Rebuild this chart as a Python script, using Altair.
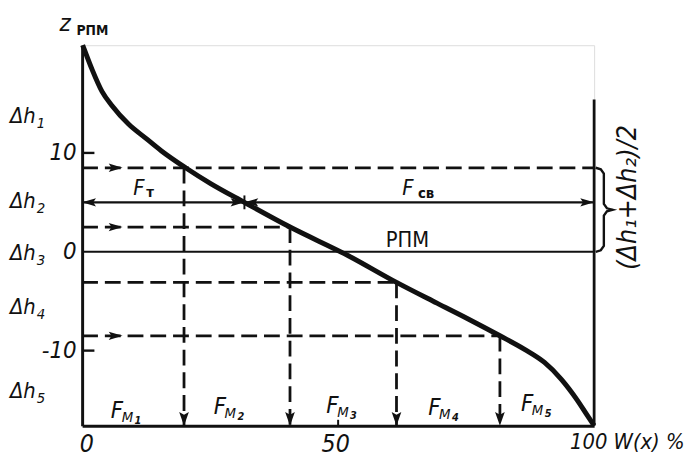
import altair as alt
import pandas as pd

# ---------------- values ----------------
# distribution curve z_РПМ(W)
curve_w = [0.1, 0.4, 1.9, 3.9, 5.8, 9.1, 12.4, 15.5, 20.2, 25.1, 31.7, 40.6,
           52.0, 61.4, 69.3, 75.4, 81.6, 86.5, 90.3, 93.6, 96.7, 98.6, 100.0]
curve_z = [20.9, 20.5, 18.5, 16.2, 14.8, 12.9, 11.5, 10.2, 8.5, 6.9, 5.0, 2.5,
           -0.4, -3.1, -5.2, -6.8, -8.5, -9.9, -11.2, -12.9, -15.0, -16.5, -17.6]

level_z = [8.5, 2.5, -3.1, -8.5]        # dashed cutting levels
level_w = [19.9, 40.6, 61.4, 81.6]      # where they meet the curve
level_end = [100.0, 40.6, 61.4, 81.6]   # right end of each dashed level
arrow_levels = [8.5, 2.5, -8.5]         # levels carrying a small arrow
arrow_w = 7.9

z_min, z_max = -17.6, 20.9
rpm_z = 0.0           # РПМ line
f_z, f_w = 5.0, 31.7  # F_т / F_св line and its crossing with the curve
right_top = 15.4
brace_top, brace_bottom = 8.5, 0.0

ytick_vals = [10, -10]
xtick_vals = [50]

dh_subs = ["1", "2", "3", "4", "5"]
dh_z = [13.0, 4.4, -0.8, -6.3, -14.8]
fm_subs = ["1", "2", "3", "4", "5"]
fm_w = [5.6, 25.7, 47.7, 67.6, 85.7]
fm_z = [-16.8, -16.4, -16.3, -16.5, -16.1]

FONT = "DejaVu Sans Condensed, DejaVu Sans"
INK = "#111111"

xs = alt.Scale(domain=[0, 100], nice=False, zero=False)
ys = alt.Scale(domain=[z_min, z_max], nice=False, zero=False)

X_AXIS = alt.Axis(values=[0, 50], ticks=False, grid=False, domainColor=INK, domainWidth=3,
                  labelFont=FONT, labelFontSize=25, labelFontStyle="italic", labelColor=INK,
                  labelPadding=6, labelOffset=-3, labelBaseline="top", title=None)
Y_AXIS = alt.Axis(values=[-10, 0, 10], ticks=False, grid=False, domainColor=INK, domainWidth=3,
                  labelFont=FONT, labelFontSize=24, labelFontStyle="italic", labelColor=INK,
                  labelPadding=6, title=None,
                  labelExpr="datum.value < 0 ? '-' + (-datum.value) : '' + datum.value")


def X(f="x"):
    return alt.X(f, type="quantitative", scale=xs, axis=X_AXIS, title=None)


def Y(f="y"):
    return alt.Y(f, type="quantitative", scale=ys, axis=Y_AXIS, title=None)


# ---------------- curve ----------------
curve_df = pd.DataFrame({"x": curve_w, "y": curve_z})
curve = alt.Chart(curve_df).mark_line(color=INK, strokeWidth=5, interpolate="monotone").encode(
    x=X(), y=Y())

# dashed horizontal levels
hdash_df = pd.DataFrame({"x": [0] * len(level_z), "x2": level_end, "y": level_z})
hdash = alt.Chart(hdash_df).mark_rule(color=INK, strokeWidth=2.8, strokeDash=[16, 7]).encode(
    x=X(), x2="x2", y=Y())

# dashed verticals down to the W axis
vdash_df = pd.DataFrame({"x": level_w, "y": level_z, "y2": [z_min] * len(level_z)})
vdash = alt.Chart(vdash_df).mark_rule(color=INK, strokeWidth=2.8, strokeDash=[16, 7]).encode(
    x=X(), y=Y(), y2="y2")

# solid thin lines: РПМ line and F line
solid_df = pd.DataFrame({"x": [0, 0], "x2": [100, 100], "y": [rpm_z, f_z]})
solid = alt.Chart(solid_df).mark_rule(color=INK, strokeWidth=2.2).encode(x=X(), x2="x2", y=Y())

# right vertical line
rv_df = pd.DataFrame({"x": [100], "y": [z_min], "y2": [right_top]})
rv = alt.Chart(rv_df).mark_rule(color=INK, strokeWidth=2.8).encode(x=X(), y=Y(), y2="y2")

# inward ticks
yt_df = pd.DataFrame({"x": [0] * len(ytick_vals), "x2": [2.4] * len(ytick_vals), "y": ytick_vals})
yt = alt.Chart(yt_df).mark_rule(color=INK, strokeWidth=2.4).encode(x=X(), x2="x2", y=Y())
xt_df = pd.DataFrame({"x": xtick_vals + [f_w], "y": [z_min, f_z - 0.7], "y2": [z_min + 0.6, f_z + 0.7]})
xt = alt.Chart(xt_df).mark_rule(color=INK, strokeWidth=2).encode(x=X(), y=Y(), y2="y2")

# arrowheads
arr_rows = [(arrow_w, z, "r") for z in arrow_levels]
arr_rows += [(f_w, f_z, "r"), (100, f_z, "r"), (0, f_z, "l"), (f_w, f_z, "l")]
arr_rows += [(w, z_min, "d") for w in level_w]
arr_df = pd.DataFrame(arr_rows, columns=["x", "y", "dir"])
arrows = alt.Chart(arr_df).mark_point(filled=True, opacity=1, color=INK, size=784, strokeWidth=0).encode(
    x=X(), y=Y(),
    shape=alt.Shape("dir:N", legend=None,
                    scale=alt.Scale(domain=["r", "l", "d"],
                                    range=["M0,0L-1,-0.3L-0.8,0L-1,0.3Z",
                                           "M0,0L1,-0.3L0.8,0L1,0.3Z",
                                           "M0,0L-0.35,-1L0,-0.8L0.35,-1Z"])))

# brace
mid = (brace_top + brace_bottom) / 2
brace_df = pd.DataFrame({
    "x": [100.3, 101.3, 101.9, 101.9, 102.5, 103.6, 102.5, 101.9, 101.9, 101.3, 100.3],
    "y": [brace_top, brace_top - 0.15, brace_top - 0.6, mid + 0.6, mid + 0.15, mid,
          mid - 0.15, mid - 0.6, brace_bottom + 0.6, brace_bottom + 0.15, brace_bottom],
    "i": list(range(11)),
})
brace = alt.Chart(brace_df).mark_line(color=INK, strokeWidth=2.4).encode(
    x=X(), y=Y(), order=alt.Order("i:Q"))


# ---------------- texts ----------------
def txt(df, size, dx=0, dy=0, style="italic", weight="normal", align="left", angle=0, baseline="alphabetic"):
    return alt.Chart(df).mark_text(font=FONT, fontSize=size, fontStyle=style, fontWeight=weight,
                                   color=INK, align=align, baseline=baseline, dx=dx, dy=dy,
                                   angle=angle).encode(x=X(), y=Y(), text="t:N")


dh_main = pd.DataFrame({"x": [-14.1] * 5, "y": dh_z, "t": ["Δh"] * 5})
dh_sub = pd.DataFrame({"x": [-14.1] * 5, "y": dh_z, "t": dh_subs})
fm_F = pd.DataFrame({"x": fm_w, "y": fm_z, "t": ["F"] * 5})
fm_M = pd.DataFrame({"x": fm_w, "y": fm_z, "t": ["M"] * 5})
fm_d = pd.DataFrame({"x": fm_w, "y": fm_z, "t": fm_subs})
fF = pd.DataFrame({"x": [10.0, 62.5], "y": [5.7, 5.7], "t": ["F", "F"]})
fT = pd.DataFrame({"x": [10.0], "y": [5.7], "t": ["т"]})
fCB = pd.DataFrame({"x": [62.5], "y": [5.7], "t": ["св"]})
rpm = pd.DataFrame({"x": [59.3], "y": [0.5], "t": ["РПМ"]})
zlab = pd.DataFrame({"x": [-4.4], "y": [22.3], "t": ["z"]})
zsub = pd.DataFrame({"x": [-4.4], "y": [22.3], "t": ["РПМ"]})
wlab = pd.DataFrame({"x": [95.3], "y": [-17.6], "t": ["100 W(x) %"]})
blab = pd.DataFrame({"x": [106.6], "y": [5.5], "t": ["(Δh₁+Δh₂)/2"]})

texts = [
    txt(dh_main, 22),
    txt(dh_sub, 15, dx=27, dy=5),
    txt(fm_F, 24),
    txt(fm_M, 15, dx=11, dy=4),
    txt(fm_d, 11, dx=24, dy=6, weight="bold"),
    txt(fF, 22),
    txt(fT, 15, dx=13, dy=2, style="normal", weight="bold"),
    txt(fCB, 15, dx=16, dy=3, style="normal", weight="bold"),
    txt(rpm, 22, style="normal"),
    txt(zlab, 24),
    txt(zsub, 14, dx=17, dy=4, style="normal", weight="bold"),
    txt(wlab, 22, baseline="top", dy=7),
    txt(blab, 27, align="center", baseline="middle", angle=270),
]

chart = alt.layer(curve, hdash, vdash, solid, rv, yt, xt, arrows, brace, *texts).properties(
    width=518, height=385,
    padding={"left": 75, "top": 35, "right": 97, "bottom": 29},
    autosize=alt.AutoSizeParams(type="none"),
).configure_view(stroke=None).configure(background="white")

chart.save("out.html", embed_options={"renderer": "svg", "actions": False})
